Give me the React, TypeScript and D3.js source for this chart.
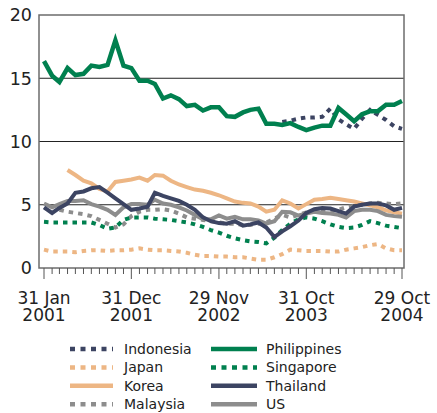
import React from "react";
import * as d3 from "d3";

const months: Date[] = d3.timeMonth.range(new Date(2001, 0, 1), new Date(2004, 10, 1));

const N = null;
const indonesia = [N,N,N,N,N,N,N,N,N,N, N,N,N,N,N,N,N,N,N,N, N,N,N,N,N,N,N,N,N,N,
  11.55,11.65,11.8,11.9,11.9,11.95,12.6,11.75,11.35,11.0,11.8,12.5,12.1,11.7,11.2,11.0];
const japan = [1.45,1.3,1.3,1.3,1.25,1.35,1.4,1.4,1.35,1.4, 1.4,1.45,1.55,1.45,1.4,1.4,1.35,1.3,1.2,1.05,
  0.95,0.95,0.9,0.9,0.85,0.85,0.75,0.65,0.65,0.85, 1.1,1.45,1.4,1.35,1.35,1.35,1.3,1.3,1.45,1.55,
  1.65,1.8,1.9,1.55,1.4,1.4];
const korea = [N,N,N,7.75,7.35,6.9,6.7,6.25,6.05,6.8, 6.9,7.0,7.15,6.9,7.35,7.3,6.9,6.6,6.4,6.2,
  6.1,5.95,5.75,5.5,5.25,5.15,5.1,4.85,4.45,4.6, 5.35,5.1,4.7,5.05,5.4,5.45,5.55,5.45,5.35,5.25,
  5.1,4.95,4.8,4.55,4.4,4.3];
const malaysia = [N,N,4.6,4.45,4.35,4.25,4.1,3.8,3.5,3.2, 3.45,4.1,4.45,4.6,4.6,4.65,4.55,4.3,4.0,3.9,
  3.8,3.7,3.6,3.5,3.5,3.4,3.4,3.5,3.6,3.9, 4.2,4.0,4.2,4.4,4.5,4.5,4.5,4.6,4.8,4.9,
  5.0,5.1,5.15,5.1,5.05,5.1];
const philippines = [16.35,15.2,14.7,15.8,15.25,15.35,16.0,15.9,16.05,18.0, 16.0,15.8,14.8,14.8,14.55,13.4,13.65,13.35,12.8,12.9,
  12.45,12.7,12.7,12.0,11.95,12.3,12.5,12.6,11.4,11.4, 11.3,11.45,11.15,10.9,11.1,11.25,11.25,12.65,12.15,11.6,
  12.15,12.4,12.4,12.9,12.9,13.2];
const singapore = [3.65,3.6,3.6,3.6,3.6,3.6,3.6,3.4,3.1,3.2, 3.8,4.0,4.0,4.0,3.9,3.85,3.8,3.7,3.6,3.45,
  3.25,3.0,2.8,2.55,2.35,2.2,2.1,2.05,1.95,2.4, 3.0,3.5,3.85,4.0,3.9,3.7,3.45,3.25,3.15,3.2,
  3.4,3.7,3.55,3.35,3.25,3.15];
const thailand = [4.8,4.35,4.75,5.1,5.95,6.05,6.3,6.4,5.95,5.5, 5.05,4.6,4.7,4.85,5.95,5.7,5.5,5.3,5.0,4.6,
  4.0,3.7,3.55,3.5,3.7,3.35,3.45,3.6,3.2,2.45, 2.9,3.3,3.75,4.35,4.65,4.75,4.7,4.5,4.3,4.85,
  5.0,5.1,5.1,4.95,4.6,4.75];
const us = [5.1,4.8,5.05,5.3,5.3,5.35,5.05,4.85,4.6,4.2, 4.8,5.05,5.05,5.0,5.4,5.1,5.0,4.8,4.55,4.2,
  3.85,3.85,4.15,3.9,4.05,3.85,3.85,3.75,3.5,3.7, 4.45,4.4,4.15,4.3,4.45,4.35,4.3,4.2,4.0,4.5,
  4.6,4.6,4.5,4.2,4.1,4.05];

const yTicks = [0, 5, 10, 15, 20];
const gridValues = [5, 10, 15];
const majorTickIndex = [0, 11, 22, 33, 45];
const majorTickLabels = [["31 Jan", "2001"], ["31 Dec", "2001"], ["29 Nov", "2002"], ["31 Oct", "2003"], ["29 Oct", "2004"]];

const GREEN = "#00804F";
const NAVY = "#3C4462";
const TAN = "#EDB684";
const GRAY = "#8D8D8D";

const seriesList = [
  { name: "Indonesia", values: indonesia, color: NAVY, dotted: true },
  { name: "Japan", values: japan, color: TAN, dotted: true },
  { name: "Korea", values: korea, color: TAN, dotted: false },
  { name: "Malaysia", values: malaysia, color: GRAY, dotted: true },
  { name: "Philippines", values: philippines, color: GREEN, dotted: false },
  { name: "Singapore", values: singapore, color: GREEN, dotted: true },
  { name: "Thailand", values: thailand, color: NAVY, dotted: false },
  { name: "US", values: us, color: GRAY, dotted: false },
];

const FONT = "DejaVu Sans, Verdana, sans-serif";

export default function App() {
  const left = 39, right = 404, top = 15, bottom = 268;
  const x = d3.scaleTime().domain([months[0], months[months.length - 1]]).range([44, 402]);
  const y = d3.scaleLinear().domain([0, 20]).range([bottom, top]);

  const line = d3.line<number | null>()
    .defined((d) => d != null)
    .x((_, i) => x(months[i]))
    .y((d) => y(d as number));

  const drawOrder = ["Indonesia", "Japan", "Korea", "Malaysia", "Singapore", "US", "Thailand", "Philippines"];

  return (
    <svg width={437} height={413} style={{ position: "absolute", left: 0, top: 0 }} fontFamily={FONT}>
      <rect x={0} y={0} width={437} height={413} fill="#fff" />
      {gridValues.map((v) => (
        <line key={v} x1={left} x2={right} y1={y(v)} y2={y(v)} stroke="#222" strokeWidth={1} />
      ))}
      {drawOrder.map((nm) => {
        const s = seriesList.find((q) => q.name === nm)!;
        return (
          <path key={nm} d={line(s.values as (number | null)[]) || ""} fill="none" stroke={s.color}
            strokeWidth={s.name === "Philippines" ? 4.5 : 4}
            strokeDasharray={s.dotted ? "4.5 5" : undefined}
            strokeLinejoin="miter" strokeLinecap="butt" />
        );
      })}
      <rect x={left} y={top} width={right - left} height={bottom - top} fill="none" stroke="#6c6c6c" strokeWidth={1.5} />
      {months.map((m, i) => {
        const major = majorTickIndex.includes(i);
        return <line key={i} x1={x(m)} x2={x(m)} y1={bottom} y2={bottom + (major ? 11 : 6)} stroke="#555" strokeWidth={1} />;
      })}
      {yTicks.map((v) => (
        <text key={v} x={32} y={y(v)} dy="0.36em" textAnchor="end" fontSize={17.5} fill="#222">{v}</text>
      ))}
      {majorTickIndex.map((idx, k) => (
        <g key={idx}>
          <text x={x(months[idx])} y={303.5} textAnchor="middle" fontSize={17} fill="#222">{majorTickLabels[k][0]}</text>
          <text x={x(months[idx])} y={321} textAnchor="middle" fontSize={17} fill="#222">{majorTickLabels[k][1]}</text>
        </g>
      ))}
      {seriesList.map((s, k) => {
        const col = k < 4 ? 0 : 1;
        const row = k % 4;
        const cy = 349 + row * 18.4;
        const x0 = col === 0 ? 70 : 211;
        const x1 = col === 0 ? 113 : 257;
        const tx = col === 0 ? 124 : 266;
        return (
          <g key={s.name}>
            <line x1={x0} x2={x1} y1={cy} y2={cy} stroke={s.color} strokeWidth={4.5}
              strokeDasharray={s.dotted ? "5 5.5" : undefined} />
            <text x={tx} y={cy} dy="0.36em" fontSize={14} fill="#222">{s.name}</text>
          </g>
        );
      })}
    </svg>
  );
}
